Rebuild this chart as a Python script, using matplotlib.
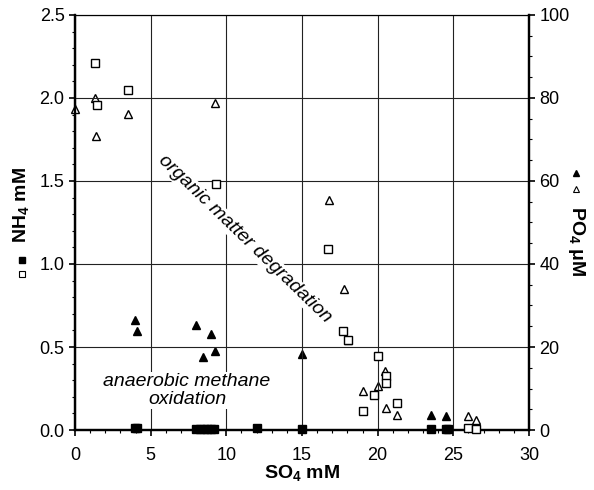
import matplotlib
matplotlib.use('Agg')
import matplotlib.pyplot as plt
from matplotlib.ticker import MultipleLocator, FormatStrFormatter

plt.rcParams['font.family'] = ['Liberation Sans', 'DejaVu Sans']
plt.rcParams['mathtext.fontset'] = 'custom'
plt.rcParams['mathtext.rm'] = 'Liberation Sans'
plt.rcParams['mathtext.bf'] = 'Liberation Sans:bold'

# NH4 (mM) vs SO4 (mM) - open squares
nh4_open_so4 = [1.32, 1.43, 3.49, 9.3, 16.73, 17.73, 18.01, 20.0, 19.76, 19.0, 20.53, 20.53, 21.26, 26.0, 26.5]
nh4_open_val = [2.21, 1.96, 2.05, 1.48, 1.088, 0.594, 0.544, 0.443, 0.212, 0.117, 0.326, 0.282, 0.161, 0.012, 0.006]

# NH4 (mM) - filled squares
nh4_fill_so4 = [3.97, 4.1, 8.0, 8.25, 8.5, 8.75, 9.0, 9.2, 12.0, 15.0, 23.5, 24.5, 24.65]
nh4_fill_val = [0.01, 0.012, 0.005, 0.005, 0.005, 0.005, 0.005, 0.005, 0.01, 0.005, 0.005, 0.005, 0.005]

# PO4 (uM) - open triangles
po4_open_so4 = [0.0, 1.3, 1.39, 3.49, 9.23, 16.78, 17.77, 18.01, 19.0, 20.02, 20.48, 20.53, 21.26, 26.0, 26.5]
po4_open_val = [77.4, 80.0, 70.9, 76.2, 78.8, 55.4, 34.0, 21.8, 9.3, 10.5, 14.3, 5.2, 3.6, 3.4, 2.4]

# PO4 (uM) - filled triangles
po4_fill_so4 = [3.97, 4.08, 7.99, 8.96, 9.23, 8.48, 11.99, 14.97, 23.5, 24.5]
po4_fill_val = [26.4, 23.9, 25.2, 23.1, 19.1, 17.5, 6.4, 18.3, 3.6, 3.3]

fig = plt.figure(figsize=(5.94, 4.9), dpi=100)
ax = fig.add_axes([75 / 594, 60 / 490, 454 / 594, 415 / 490])
ax2 = ax.twinx()

ax.set_xlim(0, 30)
ax.set_ylim(0, 2.5)
ax2.set_ylim(0, 100)

ax.xaxis.set_major_locator(MultipleLocator(5))
ax.xaxis.set_minor_locator(MultipleLocator(1))
ax.yaxis.set_major_locator(MultipleLocator(0.5))
ax.yaxis.set_minor_locator(MultipleLocator(0.1))
ax.yaxis.set_major_formatter(FormatStrFormatter('%.1f'))
ax2.yaxis.set_major_locator(MultipleLocator(20))
ax2.yaxis.set_minor_locator(MultipleLocator(5))

ax.grid(True, which='major', color='#222222', linewidth=0.8, zorder=0)
ax.set_axisbelow(True)

for a in (ax, ax2):
    a.tick_params(which='major', direction='out', length=4, width=1.2, labelsize=13, colors='black')
    a.tick_params(which='minor', direction='out', length=2.5, width=0.8)
    for side in ('left', 'right', 'bottom'):
        a.spines[side].set_linewidth(1.6)
    a.spines['top'].set_linewidth(0.8)
ax.tick_params(axis='x', pad=8)

ms = 6
ax.plot(nh4_open_so4, nh4_open_val, 's', ms=ms, mfc='white', mec='black', mew=1.0,
        clip_on=False, zorder=4)
ax.plot(nh4_fill_so4, nh4_fill_val, 's', ms=ms, mfc='black', mec='black', mew=1.0,
        clip_on=False, zorder=4)
ax2.plot(po4_open_so4, po4_open_val, '^', ms=ms, mfc='white', mec='black', mew=1.0,
         clip_on=False, zorder=4)
ax2.plot(po4_fill_so4, po4_fill_val, '^', ms=ms, mfc='black', mec='black', mew=1.0,
         clip_on=False, zorder=4)

ax.set_zorder(ax2.get_zorder() + 1)
ax.patch.set_visible(False)

ax.text(11.2, 1.15, 'organic matter degradation', rotation=-44, ha='center', va='center',
        fontsize=14, style='italic', rotation_mode='anchor',
        bbox=dict(facecolor='white', edgecolor='none', pad=0.5), zorder=3)
ax.text(7.4, 0.236, 'anaerobic methane\noxidation', ha='center', va='center',
        fontsize=14, style='italic', linespacing=1.1,
        bbox=dict(facecolor='white', edgecolor='none', pad=0.5), zorder=3)

ax.set_xlabel(r'SO$_\mathregular{4}$ mM', fontsize=14, fontweight='bold', labelpad=0)

# left axis label with symbol key
fig.text(22 / 594, 1 - 205 / 490, r'NH$_\mathregular{4}$ mM', rotation=90, ha='center', va='center',
         fontsize=14, fontweight='bold')
fig.lines.append(plt.Line2D([22 / 594], [1 - 260 / 490], marker='s', ms=5, mfc='black', mec='black',
                            transform=fig.transFigure, figure=fig))
fig.lines.append(plt.Line2D([22 / 594], [1 - 274 / 490], marker='s', ms=5, mfc='white', mec='black',
                            mew=0.8, transform=fig.transFigure, figure=fig))

# right axis label with symbol key
fig.text(576 / 594, 1 - 241 / 490, r'PO$_\mathregular{4}$ μM', rotation=270, ha='center', va='center',
         fontsize=14, fontweight='bold')
fig.lines.append(plt.Line2D([576 / 594], [1 - 173 / 490], marker='^', ms=4.5, mfc='black', mec='black',
                            transform=fig.transFigure, figure=fig))
fig.lines.append(plt.Line2D([576 / 594], [1 - 189 / 490], marker='^', ms=4.5, mfc='white', mec='black',
                            mew=0.8, transform=fig.transFigure, figure=fig))

fig.savefig('out.png', dpi=100)
